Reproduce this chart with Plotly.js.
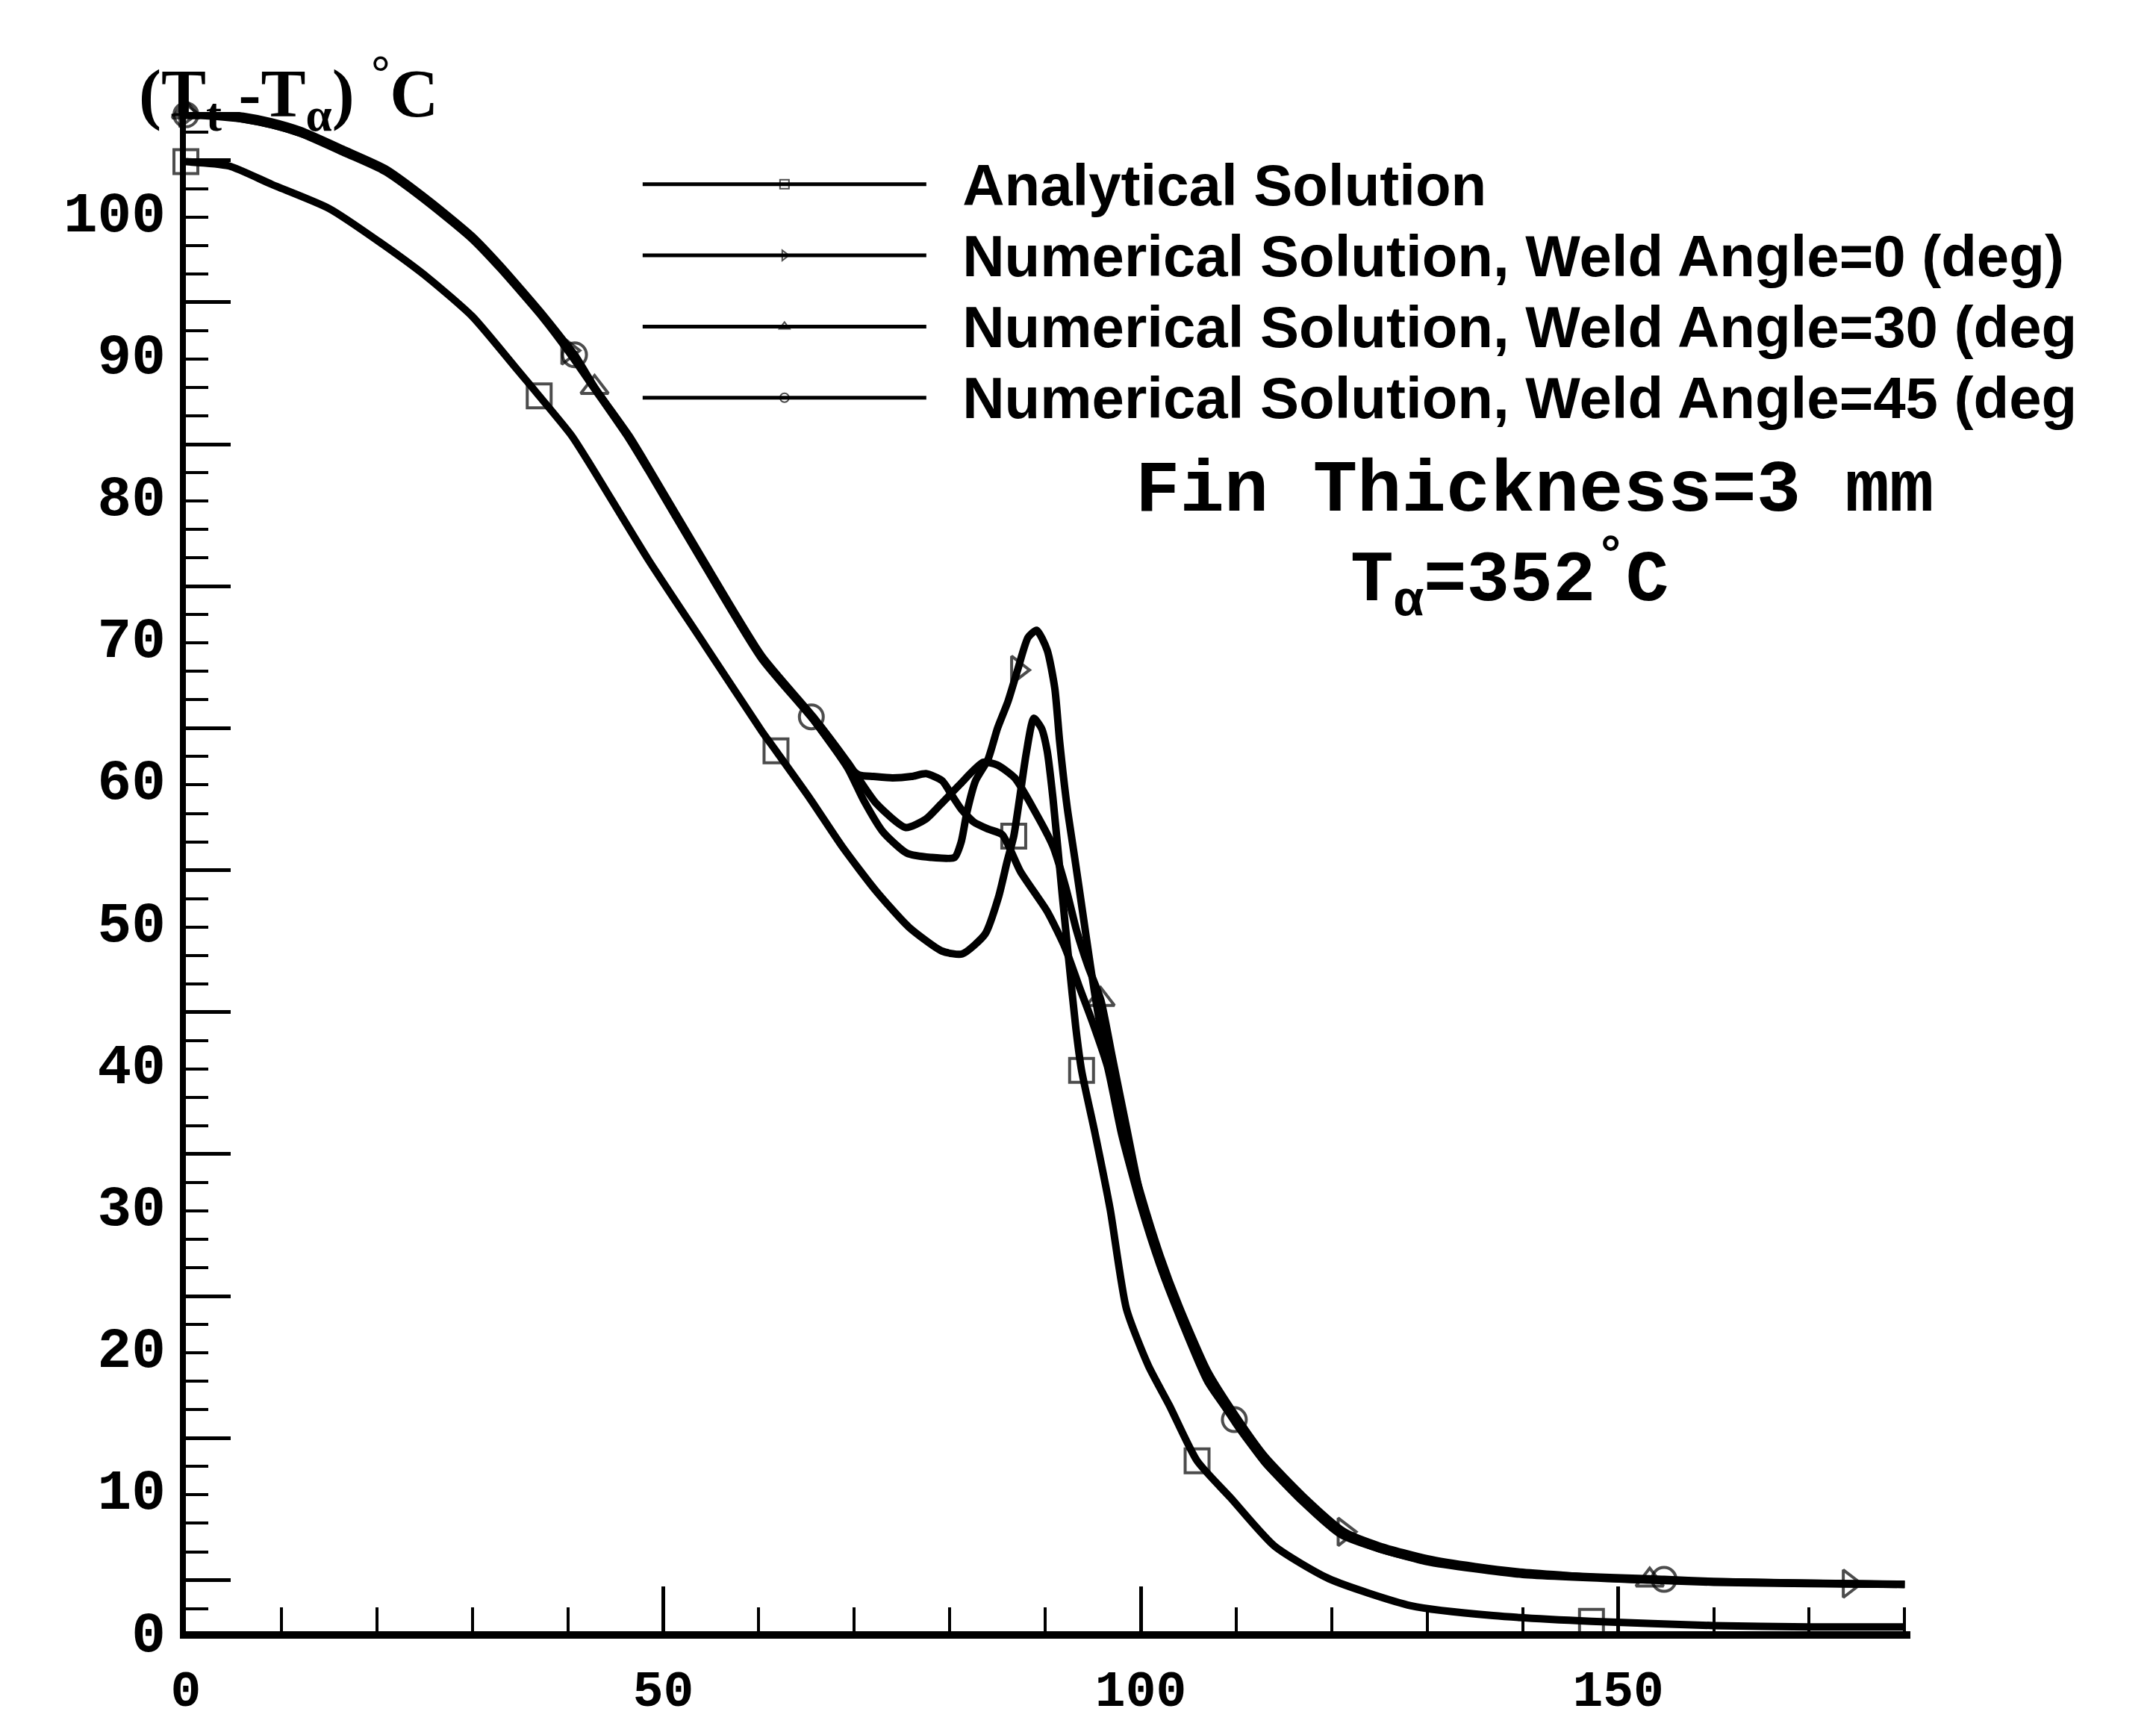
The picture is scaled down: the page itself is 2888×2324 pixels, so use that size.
<!DOCTYPE html>
<html><head><meta charset="utf-8">
<script src="https://cdn.plot.ly/plotly-3.0.1.min.js"></script>
<style>html,body{margin:0;padding:0;background:#fff}</style>
</head><body>
<div id="chart" style="width:2888px;height:2324px"></div>
<script>
// ---- data ----
const seriesNames = [
  "Analytical Solution",
  "Numerical Solution, Weld Angle=0 (deg)",
  "Numerical Solution, Weld Angle=30 (deg",
  "Numerical Solution, Weld Angle=45 (deg"
];
const yTickVals = [0,10,20,30,40,50,60,70,80,90,100];
const xTickVals = [0,50,100,150];
const xTickLabels = ["0","50","100","150"];

const anaX = [0,4.5,9,15,21,25.4,30,34.4,37,40.4,42.4,48.4,54.3,60.3,61.8,65.3,68.8,72.2,75.7,79.2,81.3,83.7,85.1,86.0,86.7,87.3,88.0,88.8,89.6,90.2,90.8,91.8,92.5,93.2,93.8,95.2,96.8,98.5,100.8,103,105.9,109.4,114,119.7,128.3,136.9,147.2,160,170,180];
const anaY = [103.5,103.2,101.9,100.2,97.5,95.3,92.6,89.1,87.0,84.2,82.1,75.5,69.5,63.4,62.0,58.7,55.2,52.2,49.6,47.9,47.7,49.1,51.7,54.2,56.0,58.6,61.8,64.3,63.6,62.0,58.7,51.7,47.0,42.5,39.5,35.1,29.7,22.7,18.7,15.9,12.0,9.4,6.0,3.7,1.8,1.1,0.7,0.4,0.3,0.3];
const anaMarks = [0,37,61.8,86.7,93.8,105.9,147.2];

const w0X = [0,3,6,9,12,16.7,20.9,25.4,29.9,32.9,37.4,40,42.8,46.4,48.4,54.3,60.3,65.7,69.3,71,73,75.5,78,80.5,81.2,81.8,82.7,84,85,86.1,87.1,88.2,89.1,90.2,91,91.5,92.3,93.1,93.9,94.7,95.5,96.5,98,100,102,104,107,110,113,117,121.3,125,130,135,140,150,160,174.2,180];
const w0Y = [106.9,106.8,106.5,106.1,105.5,104.1,102.8,100.6,98.1,96.0,92.5,90.2,87.5,84.0,81.8,75.1,68.5,64.2,60.8,58.5,56.3,54.8,54.5,54.5,55.6,57.7,59.9,61.4,63.6,65.5,67.7,70.0,70.5,69.1,66.4,62.7,58.0,54.4,50.7,47.0,43.6,40.3,35.8,30.8,26.5,22.9,18.3,15.1,12.3,9.5,7.0,6.0,5.1,4.55,4.15,3.7,3.5,3.35,3.3];
const w0Marks = [0,40,87.1,121.3,174.2];

const w30X = [0,3,6,9,12,16.7,20.9,25.4,29.9,32.9,37.4,40.4,42.8,46.4,48.4,54.3,60.3,65.7,69.3,72.3,75.4,77.5,79,81,83.5,85,86.8,88.7,90.8,92.1,93.3,94.5,95.8,97,98.5,100,102,104,107,110,113,117,121,125,130,135,140,153.3,160,170,180];
const w30Y = [107.0,106.9,106.7,106.3,105.7,104.3,103.0,100.8,98.3,96.2,92.7,90.1,87.6,84.2,82.0,75.3,68.7,64.4,61.2,58.3,56.6,57.2,58.2,59.6,61.2,61.0,60.1,58.0,55.3,52.5,49.3,46.8,44.5,40.5,35.5,30.6,26.0,22.4,17.8,14.6,11.9,9.1,6.8,5.8,4.9,4.4,4.0,3.6,3.45,3.35,3.3];
const w30Marks = [0,42.8,95.8,153.3];

const w45X = [0,3,6,9,12,16.7,20.9,25.4,29.9,32.9,37.4,40.7,42.8,46.4,48.4,54.3,60.3,65.5,69.3,70.5,72,74,76,77.5,79.2,80.2,81.2,82.5,84,85.5,87.4,90.2,92.1,93.5,95,96.5,98,100,102,104,107,109.8,113,117,121,125,130,135,140,154.8,160,170,180];
const w45Y = [106.8,106.7,106.5,106.1,105.5,104.2,102.9,100.7,98.2,96.1,92.6,89.9,87.6,84.1,81.9,75.2,68.6,64.4,61.0,60.3,60.2,60.1,60.2,60.4,59.9,58.9,57.9,57.0,56.5,56.1,53.5,50.7,48.1,45.5,42.8,39.8,35.0,30.0,25.8,22.3,17.6,14.9,11.9,9.2,6.9,5.8,4.95,4.45,4.05,3.65,3.5,3.38,3.3];
const w45Marks = [0,40.7,65.5,109.8,154.8];

// ---- build traces ----
const symbols = ["square-open","triangle-right-open","triangle-up-open","circle-open"];
const seriesX = [anaX,w0X,w30X,w45X];
const seriesY = [anaY,w0Y,w30Y,w45Y];
const seriesMarks = [anaMarks,w0Marks,w30Marks,w45Marks];
// analytical on the labelled y axis, numerical on the overlaid tick axis (same range)
const seriesAxis = ['y','y2','y2','y2'];

const traces = seriesX.map((xs,i)=>({
  type:'scatter', mode:'lines+markers',
  x: xs, y: seriesY[i], yaxis: seriesAxis[i],
  name: '<span style="font-size:78px">&nbsp;&nbsp;' + seriesNames[i] + '</span>',
  cliponaxis:false,
  line:{color:'#000', width:10, shape:'spline', smoothing:0.6},
  marker:{symbol:symbols[i], color:'#000',
          size: xs.map(v => seriesMarks[i].includes(v) ? 32 : 0),
          line:{color:'#000', width:4}},
  hoverinfo:'skip'
}));

const monoFont = {family:'"Liberation Mono", "DejaVu Sans Mono", monospace', size:76, color:'#000', weight:'bold'};

const annotations = [
  {xref:'paper', yref:'paper', x:-0.0281, y:1.012, xanchor:'left', yanchor:'middle',
   text:'(T<sub>t</sub> -T<sub>α</sub>) <sup>°</sup>C', showarrow:false,
   font:{family:'"Liberation Serif", "Times New Roman", serif', size:90, color:'#000', weight:'bold'}},
  {xref:'paper', yref:'paper', x:0.782, y:0.7504, xanchor:'center', yanchor:'middle',
   text:'Fin Thickness=3 mm', showarrow:false,
   font:{family:'"Liberation Mono", monospace', size:99, color:'#000', weight:'bold'}},
  {xref:'paper', yref:'paper', x:0.7674, y:0.6924, xanchor:'center', yanchor:'middle',
   text:'T<sub>α</sub>=352<sup>°</sup>C', showarrow:false,
   font:{family:'"Liberation Mono", monospace', size:96, color:'#000', weight:'bold'}}
];

const layout = {
  width:2888, height:2324,
  margin:{l:249, r:329, t:150, b:139},
  paper_bgcolor:'#fff', plot_bgcolor:'#fff',
  showlegend:true,
  legend:{x:0.2627, y:0.9783, xanchor:'left', yanchor:'top',
          font:{family:'"Liberation Sans", Arial, sans-serif', size:71, color:'#000', weight:'bold'},
          itemwidth:380, itemsizing:'constant',
          bgcolor:'rgba(0,0,0,0)', borderwidth:0, tracegroupgap:0},
  xaxis:{range:[0,180.6], tickmode:'array', tickvals:xTickVals, ticktext:xTickLabels,
         ticks:'inside', ticklen:60, tickwidth:5, tickcolor:'#000',
         minor:{dtick:10, tick0:0, ticks:'inside', ticklen:32, tickwidth:4, tickcolor:'#000'},
         showline:true, linewidth:10, linecolor:'#000', showgrid:false, zeroline:false,
         tickfont:Object.assign({}, monoFont, {size:68}), ticklabelstandoff:8},
  yaxis:{range:[0,107], tickmode:'array', tickvals:yTickVals, ticks:'',
         showline:true, linewidth:8, linecolor:'#000', showgrid:false, zeroline:false,
         tickfont:monoFont, ticklabelstandoff:4},
  yaxis2:{range:[0,107], overlaying:'y', anchor:'x', side:'left',
          tick0:3.6, dtick:10, ticks:'inside', ticklen:60, tickwidth:5, tickcolor:'#000',
          minor:{tick0:3.6, dtick:2, ticks:'inside', ticklen:30, tickwidth:4, tickcolor:'#000'},
          showticklabels:false, showline:false, showgrid:false, zeroline:false},
  annotations: annotations
};

Plotly.newPlot('chart', traces, layout, {staticPlot:true, displayModeBar:false});
</script>
</body></html>
